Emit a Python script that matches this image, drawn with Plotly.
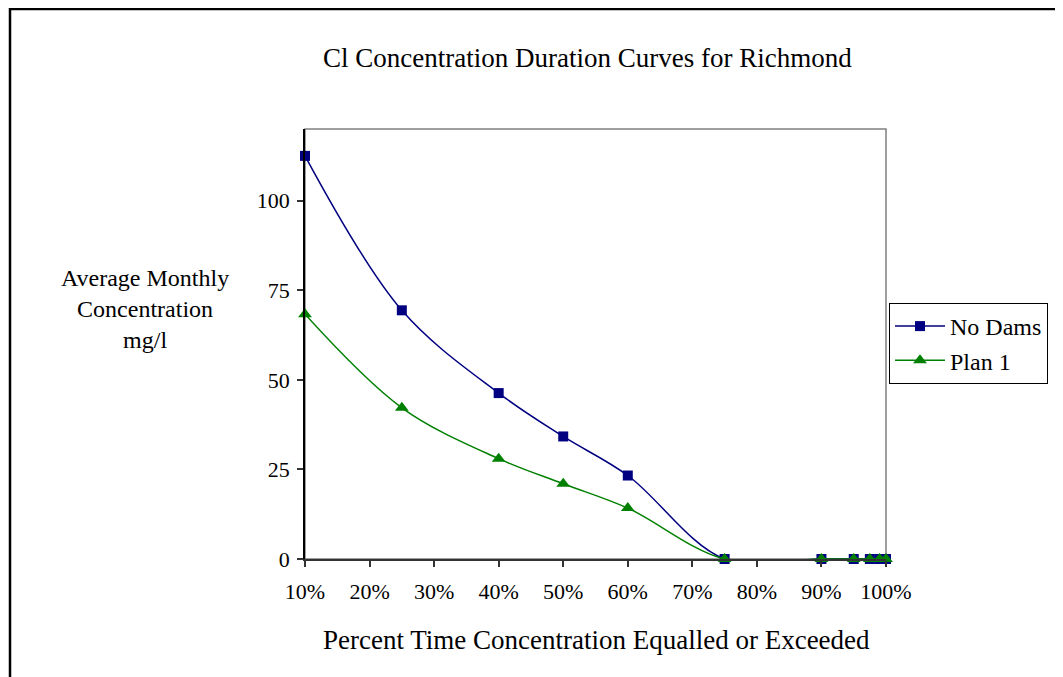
import plotly.graph_objects as go

# Data
pct_time = [10, 25, 40, 50, 60, 75, 90, 95, 97.5, 99, 100]
no_dams = [112.5, 69.4, 46.3, 34.2, 23.3, 0, 0, 0, 0, 0, 0]
plan_1 = [68.3, 42.2, 28.0, 21.0, 14.2, 0, 0, 0, 0, 0, 0]
x_ticks = [10, 20, 30, 40, 50, 60, 70, 80, 90, 100]
x_labels = [f"{v}%" for v in x_ticks]
y_ticks = [0, 25, 50, 75, 100]

FONT = "Liberation Serif, Times New Roman, serif"

# page has an 8px body margin, so target pixels are shifted back by 8
OFF = 8
W, H = 1063, 677
L, R, T, B = 305 - OFF, 886 - OFF, 129 - OFF, 559 - OFF
pw, ph = R - L, B - T


def px(x):
    return (x - OFF - L) / pw


def py(y):
    return (B - (y - OFF)) / ph


fig = go.Figure()
fig.add_trace(go.Scatter(
    x=pct_time, y=no_dams, name="No Dams",
    mode="lines+markers", cliponaxis=False,
    line=dict(color="#000080", width=1.5, shape="spline", smoothing=1.0),
    marker=dict(symbol="square", size=10, color="#000080"),
))
fig.add_trace(go.Scatter(
    x=pct_time, y=plan_1, name="Plan 1",
    mode="lines+markers", cliponaxis=False,
    line=dict(color="#008000", width=1.5, shape="spline", smoothing=1.0),
    marker=dict(symbol="triangle-up", size=12, color="#008000"),
))

# plot area border (gray) and outer chart border (black)
fig.add_shape(type="rect", xref="paper", yref="paper", x0=0, y0=0, x1=1, y1=1,
              line=dict(color="#808080", width=1.5), layer="below")
fig.add_shape(type="rect", xref="paper", yref="paper",
              x0=px(10), y0=py(700), x1=px(1058), y1=py(9),
              line=dict(color="black", width=2.5))

fig.add_annotation(text="Cl Concentration Duration Curves for Richmond",
                   xref="paper", yref="paper", x=px(587), y=py(58),
                   xanchor="center", yanchor="middle", showarrow=False,
                   font=dict(family=FONT, size=27, color="black"))
fig.add_annotation(text="Average Monthly<br>Concentration<br>mg/l",
                   xref="paper", yref="paper", x=px(145), y=py(309),
                   xanchor="center", yanchor="middle", showarrow=False,
                   align="center",
                   font=dict(family=FONT, size=24, color="black"))
fig.add_annotation(text="Percent Time Concentration Equalled or Exceeded",
                   xref="paper", yref="paper", x=px(596), y=py(640),
                   xanchor="center", yanchor="middle", showarrow=False,
                   font=dict(family=FONT, size=27, color="black"))

fig.update_xaxes(range=[10, 100], tickvals=x_ticks, ticktext=x_labels,
                 showgrid=False, zeroline=False, showline=True,
                 linecolor="#333333", linewidth=2, ticks="outside",
                 ticklen=6, tickcolor="#333333", tickwidth=1.5,
                 ticklabelstandoff=6,
                 tickfont=dict(family=FONT, size=22, color="black"))
fig.update_yaxes(range=[0, 120], tickvals=y_ticks,
                 showgrid=False, zeroline=False, showline=True,
                 linecolor="black", linewidth=1.5, ticks="outside",
                 ticklen=6, tickcolor="#333333", tickwidth=1.5,
                 ticklabelstandoff=3,
                 tickfont=dict(family=FONT, size=22, color="black"))

fig.update_layout(
    width=W, height=H,
    margin=dict(l=L, r=W - R, t=T, b=H - B),
    paper_bgcolor="white", plot_bgcolor="white",
    showlegend=True,
    legend=dict(x=px(889), y=py(303), xanchor="left", yanchor="top",
                bordercolor="black", borderwidth=1, bgcolor="white",
                font=dict(family=FONT, size=24, color="black"),
                tracegroupgap=0, itemwidth=50),
)

fig.write_html("out.html")
